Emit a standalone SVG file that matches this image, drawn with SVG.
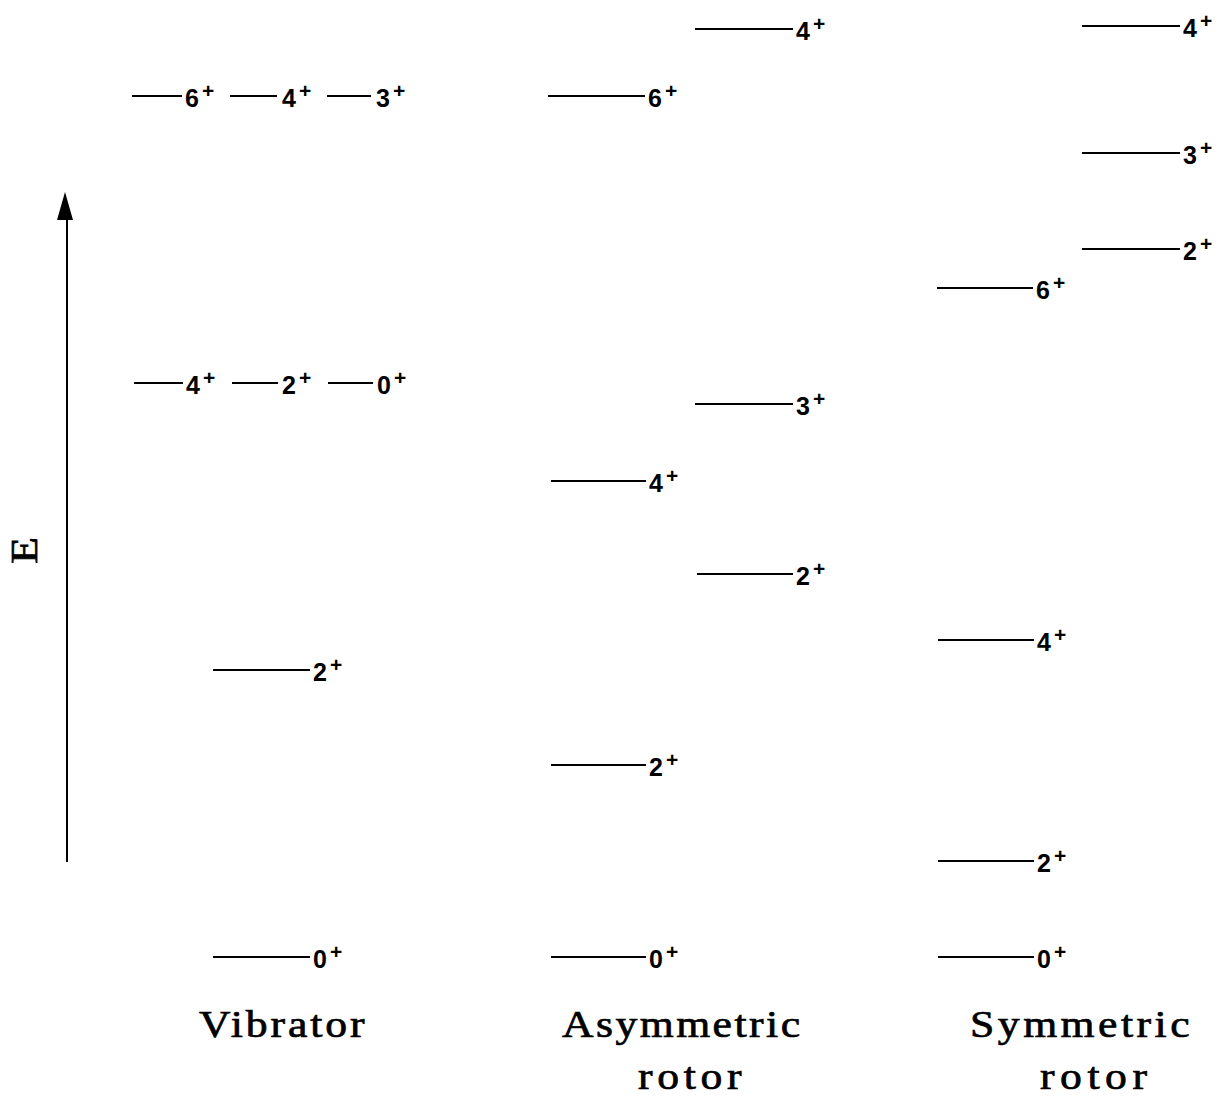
<svg xmlns="http://www.w3.org/2000/svg" width="1225" height="1099" viewBox="0 0 1225 1099">
  <style>
    .lvl { stroke: #000; stroke-width: 2; }
    .j { font-family: "Liberation Sans", Arial, sans-serif; font-weight: bold; font-size: 25px; fill: #000; }
    .j .p { font-size: 21px; }
    .cap { font-family: "Liberation Serif", "Times New Roman", serif; font-size: 38px; fill: #000; stroke: #000; stroke-width: 0.7; }
  </style>
  <rect width="1225" height="1099" fill="#fff"/>

  <!-- energy axis -->
  <g id="axis">
    <line x1="67" y1="862" x2="67" y2="218" stroke="#000" stroke-width="2"/>
    <path d="M65 192 L73 220 L57 220 Z" fill="#000"/>
    <text class="cap" transform="translate(37,551) rotate(-90) scale(1.15,1)" x="-11" y="0">E</text>
  </g>

  <!-- vibrator spectrum -->
  <g id="vibrator">
    <g id="vib-0"><line class="lvl" x1="213" y1="957" x2="310" y2="957"/><text class="j" x="313" y="968">0<tspan class="p" dx="3" dy="-9">+</tspan></text></g>
    <g id="vib-2"><line class="lvl" x1="213" y1="670" x2="310" y2="670"/><text class="j" x="313" y="681">2<tspan class="p" dx="3" dy="-9">+</tspan></text></g>
    <g id="vib-4a"><line class="lvl" x1="134" y1="383" x2="183" y2="383"/><text class="j" x="186" y="394">4<tspan class="p" dx="3" dy="-9">+</tspan></text></g>
    <g id="vib-2a"><line class="lvl" x1="232" y1="383" x2="278" y2="383"/><text class="j" x="282" y="394">2<tspan class="p" dx="3" dy="-9">+</tspan></text></g>
    <g id="vib-0a"><line class="lvl" x1="328" y1="383" x2="373" y2="383"/><text class="j" x="377" y="394">0<tspan class="p" dx="3" dy="-9">+</tspan></text></g>
    <g id="vib-6"><line class="lvl" x1="132" y1="96" x2="182" y2="96"/><text class="j" x="185" y="107">6<tspan class="p" dx="3" dy="-9">+</tspan></text></g>
    <g id="vib-4b"><line class="lvl" x1="230" y1="96" x2="277" y2="96"/><text class="j" x="282" y="107">4<tspan class="p" dx="3" dy="-9">+</tspan></text></g>
    <g id="vib-3"><line class="lvl" x1="327" y1="96" x2="371" y2="96"/><text class="j" x="376" y="107">3<tspan class="p" dx="3" dy="-9">+</tspan></text></g>
    <text class="cap" transform="translate(199,1037) scale(1.15,1)" textLength="144" lengthAdjust="spacing">Vibrator</text>
  </g>

  <!-- asymmetric rotor spectrum -->
  <g id="asym">
    <g id="asym-0"><line class="lvl" x1="551" y1="957" x2="646" y2="957"/><text class="j" x="649" y="968">0<tspan class="p" dx="3" dy="-9">+</tspan></text></g>
    <g id="asym-2"><line class="lvl" x1="551" y1="765" x2="646" y2="765"/><text class="j" x="649" y="776">2<tspan class="p" dx="3" dy="-9">+</tspan></text></g>
    <g id="asym-4"><line class="lvl" x1="551" y1="481" x2="646" y2="481"/><text class="j" x="649" y="492">4<tspan class="p" dx="3" dy="-9">+</tspan></text></g>
    <g id="asym-6"><line class="lvl" x1="548" y1="96" x2="645" y2="96"/><text class="j" x="648" y="107">6<tspan class="p" dx="3" dy="-9">+</tspan></text></g>
    <g id="asym-2g"><line class="lvl" x1="697" y1="574" x2="793" y2="574"/><text class="j" x="796" y="585">2<tspan class="p" dx="3" dy="-9">+</tspan></text></g>
    <g id="asym-3g"><line class="lvl" x1="695" y1="404" x2="793" y2="404"/><text class="j" x="796" y="415">3<tspan class="p" dx="3" dy="-9">+</tspan></text></g>
    <g id="asym-4g"><line class="lvl" x1="695" y1="29" x2="793" y2="29"/><text class="j" x="796" y="40">4<tspan class="p" dx="3" dy="-9">+</tspan></text></g>
    <text class="cap" transform="translate(562,1037) scale(1.15,1)" textLength="207" lengthAdjust="spacing">Asymmetric</text>
    <text class="cap" transform="translate(638,1089) scale(1.15,1)" textLength="90" lengthAdjust="spacing">rotor</text>
  </g>

  <!-- symmetric rotor spectrum -->
  <g id="sym">
    <g id="sym-0"><line class="lvl" x1="938" y1="957" x2="1034" y2="957"/><text class="j" x="1037" y="968">0<tspan class="p" dx="3" dy="-9">+</tspan></text></g>
    <g id="sym-2"><line class="lvl" x1="938" y1="861" x2="1034" y2="861"/><text class="j" x="1037" y="872">2<tspan class="p" dx="3" dy="-9">+</tspan></text></g>
    <g id="sym-4"><line class="lvl" x1="938" y1="640" x2="1034" y2="640"/><text class="j" x="1037" y="651">4<tspan class="p" dx="3" dy="-9">+</tspan></text></g>
    <g id="sym-6"><line class="lvl" x1="937" y1="288" x2="1033" y2="288"/><text class="j" x="1036" y="299">6<tspan class="p" dx="3" dy="-9">+</tspan></text></g>
    <g id="sym-2g"><line class="lvl" x1="1082" y1="249" x2="1180" y2="249"/><text class="j" x="1183" y="260">2<tspan class="p" dx="3" dy="-9">+</tspan></text></g>
    <g id="sym-3g"><line class="lvl" x1="1082" y1="153" x2="1180" y2="153"/><text class="j" x="1183" y="164">3<tspan class="p" dx="3" dy="-9">+</tspan></text></g>
    <g id="sym-4g"><line class="lvl" x1="1082" y1="26" x2="1180" y2="26"/><text class="j" x="1183" y="37">4<tspan class="p" dx="3" dy="-9">+</tspan></text></g>
    <text class="cap" transform="translate(970,1037) scale(1.15,1)" textLength="191" lengthAdjust="spacing">Symmetric</text>
    <text class="cap" transform="translate(1040,1089) scale(1.15,1)" textLength="93" lengthAdjust="spacing">rotor</text>
  </g>
</svg>
